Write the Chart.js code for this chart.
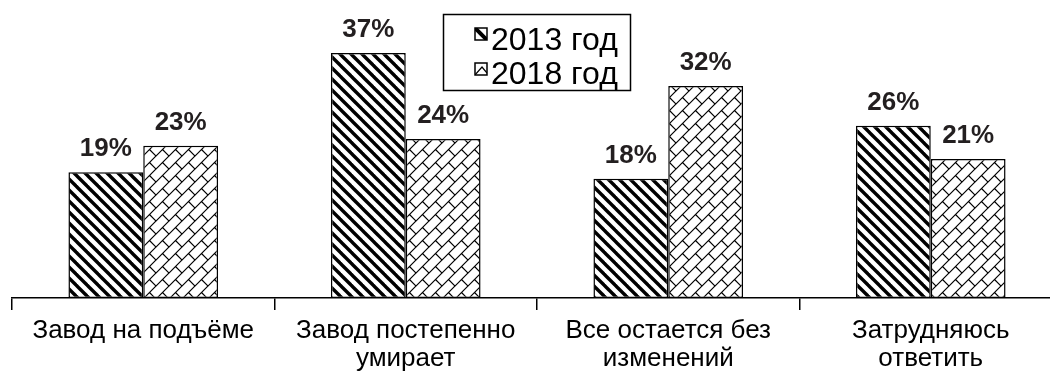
<!DOCTYPE html>
<html>
<head>
<meta charset="utf-8">
<script src="https://cdn.jsdelivr.net/npm/chart.js@4"></script>
<style>
  html, body { margin: 0; padding: 0; background: #fff; overflow: hidden; }
  #wrap { width: 1063px; height: 380px; }
</style>
</head>
<body>
<div id="wrap"><canvas id="chart"></canvas></div>
<script>
// data
const categories = [
  ['Завод на подъёме'],
  ['Завод постепенно', 'умирает'],
  ['Все остается без', 'изменений'],
  ['Затрудняюсь', 'ответить']
];
const seriesNames = ['2013 год', '2018 год'];
const values2013 = [19, 37, 18, 26];
const values2018 = [23, 24, 32, 21];

const FONT = "'Liberation Sans', Arial, sans-serif";

// hatch patterns
function stripePattern() {
  const s = 11;
  const c = document.createElement('canvas');
  c.width = s; c.height = s;
  const g = c.getContext('2d');
  g.fillStyle = '#fff';
  g.fillRect(0, 0, s, s);
  g.strokeStyle = '#000';
  g.lineWidth = 3.4;
  for (let o = -s; o <= s; o += s) {
    g.beginPath();
    g.moveTo(o - 2, -2);
    g.lineTo(o + s + 2, s + 2);
    g.stroke();
  }
  return g.createPattern(c, 'repeat');
}

function brickPattern() {
  const s = 13;
  const c = document.createElement('canvas');
  c.width = s; c.height = s;
  const g = c.getContext('2d');
  g.fillStyle = '#fff';
  g.fillRect(0, 0, s, s);
  g.strokeStyle = '#000';
  g.lineWidth = 1.2;
  for (let ox = -s; ox <= s; ox += s) {
    for (let oy = -s; oy <= s; oy += s) {
      g.beginPath();
      g.moveTo(ox, oy + s);
      g.lineTo(ox + s, oy);
      g.moveTo(ox + s / 2, oy + s / 2);
      g.lineTo(ox + s, oy + s);
      g.stroke();
    }
  }
  return g.createPattern(c, 'repeat');
}

const pat2013 = stripePattern();
const pat2018 = brickPattern();

// value labels above the bars
const valueLabels = {
  id: 'valueLabels',
  afterDatasetsDraw(chart) {
    const ctx = chart.ctx;
    ctx.save();
    ctx.font = 'bold 26px ' + FONT;
    ctx.fillStyle = '#231f20';
    ctx.textAlign = 'center';
    ctx.textBaseline = 'alphabetic';
    chart.data.datasets.forEach((ds, i) => {
      chart.getDatasetMeta(i).data.forEach((bar, j) => {
        ctx.fillText(ds.data[j] + '%', bar.x, bar.y - 16);
      });
    });
    ctx.restore();
  }
};

// boxed legend in the top middle
const boxLegend = {
  id: 'boxLegend',
  afterDraw(chart) {
    const ctx = chart.ctx;
    ctx.save();
    ctx.strokeStyle = '#000';
    ctx.lineWidth = 1.5;
    ctx.strokeRect(443.5, 14.5, 187, 76);

    // 2013 icon
    ctx.fillStyle = '#fff';
    ctx.fillRect(475, 28, 12, 12);
    ctx.save();
    ctx.beginPath();
    ctx.rect(475, 28, 12, 12);
    ctx.clip();
    ctx.strokeStyle = '#000';
    ctx.lineWidth = 4;
    ctx.beginPath();
    ctx.moveTo(474, 27);
    ctx.lineTo(488, 41);
    ctx.stroke();
    ctx.restore();
    ctx.lineWidth = 1.5;
    ctx.strokeRect(475, 28, 12, 12);

    // 2018 icon
    ctx.fillStyle = '#fff';
    ctx.fillRect(475, 63, 12, 12);
    ctx.save();
    ctx.beginPath();
    ctx.rect(475, 63, 12, 12);
    ctx.clip();
    ctx.lineWidth = 1.2;
    ctx.beginPath();
    ctx.moveTo(475, 75);
    ctx.lineTo(482, 67);
    ctx.lineTo(487, 73);
    ctx.stroke();
    ctx.restore();
    ctx.lineWidth = 1.5;
    ctx.strokeRect(475, 63, 12, 12);

    ctx.font = '32px ' + FONT;
    ctx.fillStyle = '#000';
    ctx.textAlign = 'left';
    ctx.textBaseline = 'alphabetic';
    ctx.fillText(seriesNames[0], 491, 50);
    ctx.fillText(seriesNames[1], 491, 84);
    ctx.restore();
  }
};

new Chart(document.getElementById('chart'), {
  type: 'bar',
  data: {
    labels: categories,
    datasets: [
      {
        label: seriesNames[0],
        data: values2013,
        backgroundColor: pat2013,
        borderColor: '#000',
        borderWidth: 1.5,
        borderSkipped: false
      },
      {
        label: seriesNames[1],
        data: values2018,
        backgroundColor: pat2018,
        borderColor: '#000',
        borderWidth: 1.5,
        borderSkipped: false
      }
    ]
  },
  options: {
    responsive: true,
    maintainAspectRatio: false,
    animation: false,
    events: [],
    categoryPercentage: 0.57,
    barPercentage: 1.0,
    layout: { padding: { left: 12, right: 1, top: 0, bottom: 0 } },
    plugins: {
      legend: { display: false },
      tooltip: { enabled: false }
    },
    scales: {
      x: {
        grid: {
          display: true,
          offset: true,
          drawOnChartArea: false,
          drawTicks: true,
          tickLength: 12,
          color: '#000',
          lineWidth: 1.5
        },
        border: { display: true, color: '#000', width: 1.5 },
        ticks: {
          color: '#000',
          padding: 7,
          maxRotation: 0,
          autoSkip: false,
          font: { family: FONT, size: 26, lineHeight: 28 / 26 }
        }
      },
      y: {
        display: false,
        min: 0,
        max: 45
      }
    }
  },
  plugins: [valueLabels, boxLegend]
});
</script>
</body>
</html>
